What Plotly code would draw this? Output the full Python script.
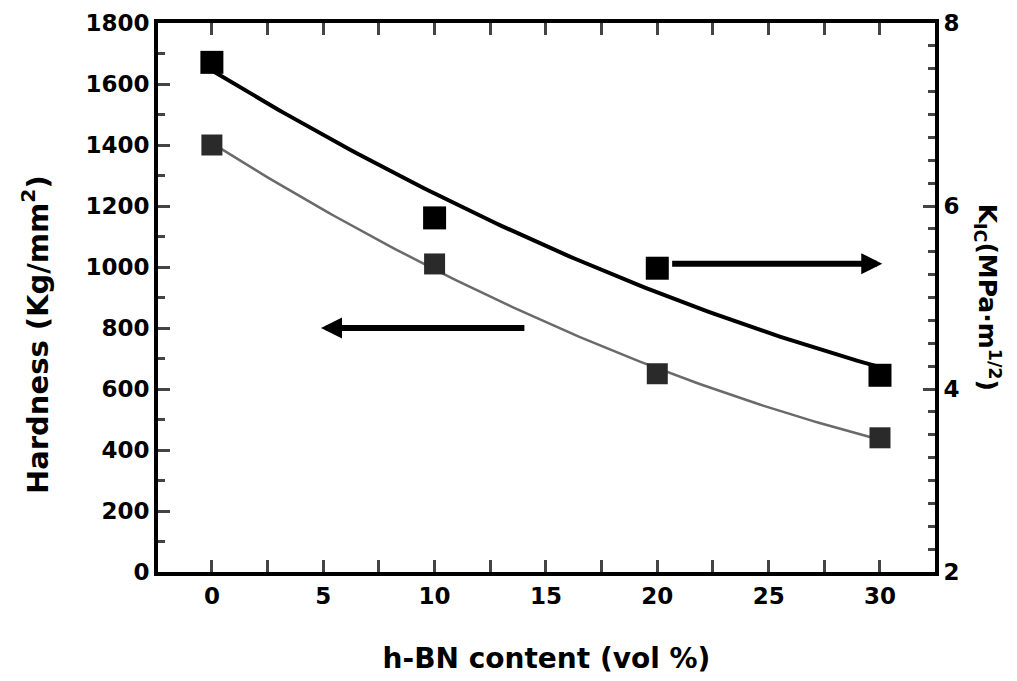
import numpy as np
import plotly.graph_objects as go

# Data
hbn_content = [0, 10, 20, 30]
hardness = [1400, 1010, 650, 440]          # Kg/mm^2 (left axis)
kic = [7.57, 5.87, 5.32, 4.15]             # MPa·m^1/2 (right axis)

x_ticks = [0, 5, 10, 15, 20, 25, 30]
y1_ticks = [0, 200, 400, 600, 800, 1000, 1200, 1400, 1600, 1800]
y2_ticks = [2, 4, 6, 8]

# Smooth quadratic trend lines fitted to the measured points
x_fit = np.linspace(0, 30, 121)
hard_fit = np.polyval(np.polyfit(hbn_content, hardness, 2), x_fit)
kic_fit = np.polyval(np.polyfit(hbn_content, kic, 2), x_fit)

FONT = "DejaVu Sans"
fig = go.Figure()

fig.add_trace(go.Scatter(x=x_fit, y=hard_fit, mode="lines",
                         line=dict(color="#6a6a6a", width=2.5),
                         yaxis="y", showlegend=False, hoverinfo="skip"))
fig.add_trace(go.Scatter(x=hbn_content, y=hardness, mode="markers",
                         marker=dict(symbol="square", size=21, color="#2a2a2a"),
                         yaxis="y", showlegend=False, name="Hardness"))
fig.add_trace(go.Scatter(x=x_fit, y=kic_fit, mode="lines",
                         line=dict(color="black", width=4),
                         yaxis="y2", showlegend=False, hoverinfo="skip"))
fig.add_trace(go.Scatter(x=hbn_content, y=kic, mode="markers",
                         marker=dict(symbol="square", size=23, color="black"),
                         yaxis="y2", showlegend=False, name="KIC"))

tickfont = dict(family=FONT, size=23, color="black", weight="bold")

fig.update_layout(
    width=1017, height=681,
    margin=dict(l=150, r=90, t=15, b=117),
    paper_bgcolor="white", plot_bgcolor="white",
    font=dict(family=FONT, color="black"),
    xaxis=dict(range=[-2.42, 32.47], tickvals=x_ticks, ticks="inside", ticklen=12,
               tickwidth=3, linecolor="black", linewidth=4, showline=True,
               mirror="allticks", showgrid=False, zeroline=False,
               tickfont=tickfont, automargin=False,
               minor=dict(dtick=2.5, ticks="inside", ticklen=7, tickwidth=2.5),
               title=dict(text="h-BN content (vol %)",
                          font=dict(family=FONT, size=28, weight="bold"),
                          standoff=42)),
    yaxis=dict(range=[0, 1800], tickvals=y1_ticks, ticks="inside", ticklen=12,
               tickwidth=3, linecolor="black", linewidth=4, showline=True,
               showgrid=False, zeroline=False, tickfont=tickfont, automargin=False,
               minor=dict(dtick=100, ticks="inside", ticklen=7, tickwidth=2.5)),
    yaxis2=dict(range=[2, 8], tickvals=y2_ticks, ticks="inside", ticklen=12,
                tickwidth=3, linecolor="black", linewidth=4, showline=True,
                overlaying="y", side="right", showgrid=False, zeroline=False,
                tickfont=tickfont, automargin=False,
                minor=dict(dtick=0.25, ticks="inside", ticklen=7, tickwidth=2.5)),
)

# Left axis title
fig.add_annotation(text="Hardness (Kg/mm<sup>2</sup>)", xref="paper", yref="paper",
                   x=-0.158, y=0.432, xanchor="center", yanchor="middle",
                   textangle=-90, showarrow=False,
                   font=dict(family=FONT, size=29, color="black", weight="bold"))

# Right axis title reading top-to-bottom
fig.add_annotation(text="K<sub>IC</sub>(MPa·m<sup>1/2</sup>)", xref="paper", yref="paper",
                   x=1.068, y=0.5, xanchor="center", yanchor="middle",
                   textangle=90, showarrow=False,
                   font=dict(family=FONT, size=25, color="black", weight="bold"))

# Arrows indicating the axis for each curve
fig.add_annotation(x=4.9, y=800, ax=14.1, ay=800, xref="x", yref="y",
                   axref="x", ayref="y", text="", showarrow=True,
                   arrowhead=2, arrowsize=0.7, arrowwidth=6, arrowcolor="black")
fig.add_annotation(x=30.1, y=5.37, ax=20.6, ay=5.37, xref="x", yref="y2",
                   axref="x", ayref="y2", text="", showarrow=True,
                   arrowhead=2, arrowsize=0.7, arrowwidth=6, arrowcolor="black")

fig.write_html("out.html")
